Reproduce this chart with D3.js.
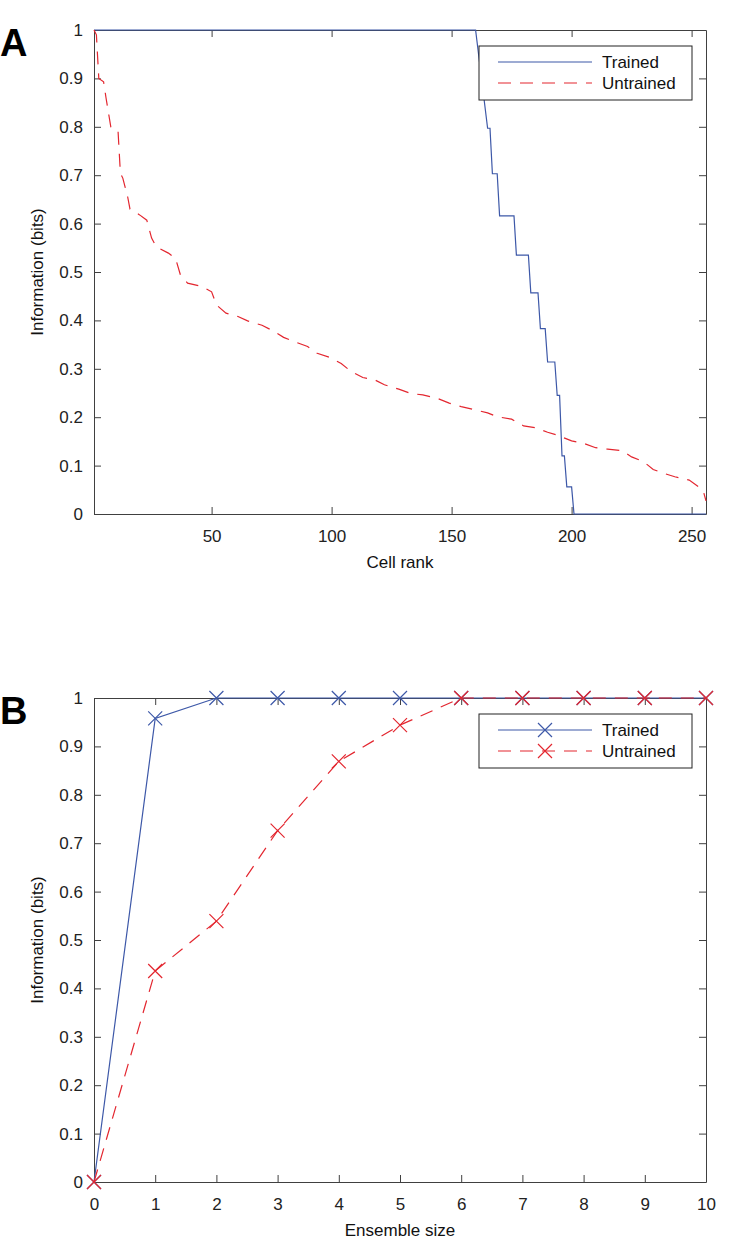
<!DOCTYPE html>
<html>
<head>
<meta charset="utf-8">
<script src="https://cdn.jsdelivr.net/npm/d3@7"></script>
<style>
  body { margin: 0; background: #fff; }
  svg { display: block; font-family: "Liberation Sans", Arial, sans-serif; }
  .axis path, .axis line { stroke: #404040; }
  .axis text { fill: #222; font-size: 17px; }
</style>
</head>
<body>
<svg width="741" height="1246"></svg>
<script>
// panel A - information per cell, sorted by rank (polyline vertices)
var trainedRank = [1, 160, 165, 166, 167, 169, 170, 176, 177, 182, 183, 186, 187, 189, 190, 193, 194, 195, 196, 197, 198, 200, 201, 256];
var trainedInfo = [1, 1, 0.797, 0.797, 0.703, 0.703, 0.616, 0.616, 0.535, 0.535, 0.457, 0.457, 0.383, 0.383, 0.314, 0.314, 0.245, 0.245, 0.12, 0.12, 0.056, 0.056, 0, 0];

var untrainedRank = [1, 2, 3, 5, 6, 8, 11, 12, 13, 15, 16, 20, 23, 25, 27, 32, 35, 37, 40, 46, 50, 52, 56, 61, 65, 71, 75, 80, 85, 90, 94, 99, 104, 108, 113, 118, 122, 128, 133, 138, 144, 149, 154, 160, 165, 169, 175, 180, 185, 190, 194, 200, 205, 210, 215, 221, 225, 230, 234, 239, 243, 249, 253, 255, 256];
var untrainedInfo = [1, 0.99, 0.9, 0.893, 0.86, 0.80, 0.793, 0.704, 0.694, 0.656, 0.63, 0.618, 0.607, 0.57, 0.552, 0.539, 0.528, 0.494, 0.477, 0.47, 0.459, 0.432, 0.415, 0.408, 0.399, 0.39, 0.38, 0.365, 0.355, 0.346, 0.332, 0.324, 0.311, 0.295, 0.282, 0.277, 0.267, 0.258, 0.249, 0.246, 0.239, 0.229, 0.222, 0.215, 0.209, 0.201, 0.196, 0.182, 0.178, 0.169, 0.163, 0.151, 0.146, 0.137, 0.134, 0.131, 0.118, 0.108, 0.092, 0.083, 0.077, 0.07, 0.056, 0.045, 0.027];

// panel B - information vs ensemble size
var ensembleSize = [0, 1, 2, 3, 4, 5, 6, 7, 8, 9, 10];
var trainedEnsemble = [0, 0.958, 1, 1, 1, 1, 1, 1, 1, 1, 1];
var untrainedEnsemble = [0, 0.436, 0.539, 0.726, 0.869, 0.944, 1, 1, 1, 1, 1];

var yTicks = [0, 0.1, 0.2, 0.3, 0.4, 0.5, 0.6, 0.7, 0.8, 0.9, 1];
var rankTicks = [50, 100, 150, 200, 250];
var seriesNames = ["Trained", "Untrained"];

var blue = "#3d58a8", red = "#e3262f", dash = "13,9";
var svg = d3.select("svg");
svg.append("rect").attr("width", 741).attr("height", 1246).attr("fill", "#fff");

function zip(xs, ys) { return xs.map(function(x, i) { return [x, ys[i]]; }); }
function xMark(sel) { sel.attr("d", "M-7,-7L7,7M-7,7L7,-7"); }

function drawPanel(p) {
  var x = d3.scaleLinear().domain(p.xDomain).range([94, 706]);
  var y = d3.scaleLinear().domain([0, 1]).range([p.top + 484, p.top]);
  var g = svg.append("g");
  var fmt = function(d) { return String(+d.toFixed(1)); };

  g.append("g").attr("class", "axis").attr("transform", "translate(0," + y(0) + ")")
    .call(d3.axisBottom(x).tickValues(p.xTicks).tickSizeInner(-7).tickSizeOuter(0).tickPadding(16).tickFormat(fmt));
  g.append("g").attr("class", "axis").attr("transform", "translate(0," + y(1) + ")")
    .call(d3.axisTop(x).tickValues(p.xTicks).tickSizeInner(-7).tickSizeOuter(0).tickFormat(""));
  g.append("g").attr("class", "axis").attr("transform", "translate(" + x.range()[0] + ",0)")
    .call(d3.axisLeft(y).tickValues(yTicks).tickSizeInner(-7).tickSizeOuter(0).tickPadding(11).tickFormat(fmt));
  g.append("g").attr("class", "axis").attr("transform", "translate(" + x.range()[1] + ",0)")
    .call(d3.axisRight(y).tickValues(yTicks).tickSizeInner(-7).tickSizeOuter(0).tickFormat(""));

  var line = d3.line().x(function(d) { return x(d[0]); }).y(function(d) { return y(d[1]); });
  p.series.forEach(function(s) {
    g.append("path").datum(s.points).attr("d", line).attr("fill", "none")
      .attr("stroke", s.color).attr("stroke-width", 1.2).attr("stroke-dasharray", s.dash);
    if (p.markers) {
      g.selectAll(null).data(s.points).enter().append("path")
        .attr("transform", function(d) { return "translate(" + x(d[0]) + "," + y(d[1]) + ")"; })
        .call(xMark).attr("stroke", s.color).attr("stroke-width", 1.2).attr("fill", "none");
    }
  });

  // legend
  var lg = g.append("g").attr("transform", "translate(479," + (p.top + 16) + ")");
  lg.append("rect").attr("width", 213).attr("height", 54).attr("fill", "#fff").attr("stroke", "#222");
  p.series.forEach(function(s, i) {
    var ly = 16 + i * 21;
    lg.append("line").attr("x1", 19).attr("x2", 113).attr("y1", ly).attr("y2", ly)
      .attr("stroke", s.color).attr("stroke-width", 1.2).attr("stroke-dasharray", s.dash);
    if (p.markers) lg.append("path").attr("transform", "translate(66," + ly + ")").call(xMark)
      .attr("stroke", s.color).attr("stroke-width", 1.2);
    lg.append("text").attr("x", 123).attr("y", ly + 6).attr("font-size", 17).attr("fill", "#111").text(s.name);
  });

  g.append("text").attr("transform", "translate(43," + y(0.5) + ") rotate(-90)")
    .attr("text-anchor", "middle").attr("font-size", 17).attr("fill", "#111").text("Information (bits)");
  g.append("text").attr("x", 400).attr("y", y(0) + 54).attr("text-anchor", "middle")
    .attr("font-size", 17).attr("fill", "#111").text(p.xLabel);
  g.append("text").attr("x", 0).attr("y", p.top + 26).attr("font-size", 38).attr("font-weight", "bold")
    .attr("fill", "#000").text(p.letter);
}

drawPanel({
  letter: "A", top: 30, xDomain: [1, 256], xTicks: rankTicks, xLabel: "Cell rank", markers: false,
  series: [
    { name: seriesNames[0], color: blue, dash: null, points: zip(trainedRank, trainedInfo) },
    { name: seriesNames[1], color: red, dash: dash, points: zip(untrainedRank, untrainedInfo) }
  ]
});
drawPanel({
  letter: "B", top: 698, xDomain: [0, 10], xTicks: ensembleSize, xLabel: "Ensemble size", markers: true,
  series: [
    { name: seriesNames[0], color: blue, dash: null, points: zip(ensembleSize, trainedEnsemble) },
    { name: seriesNames[1], color: red, dash: dash, points: zip(ensembleSize, untrainedEnsemble) }
  ]
});
</script>
</body>
</html>
